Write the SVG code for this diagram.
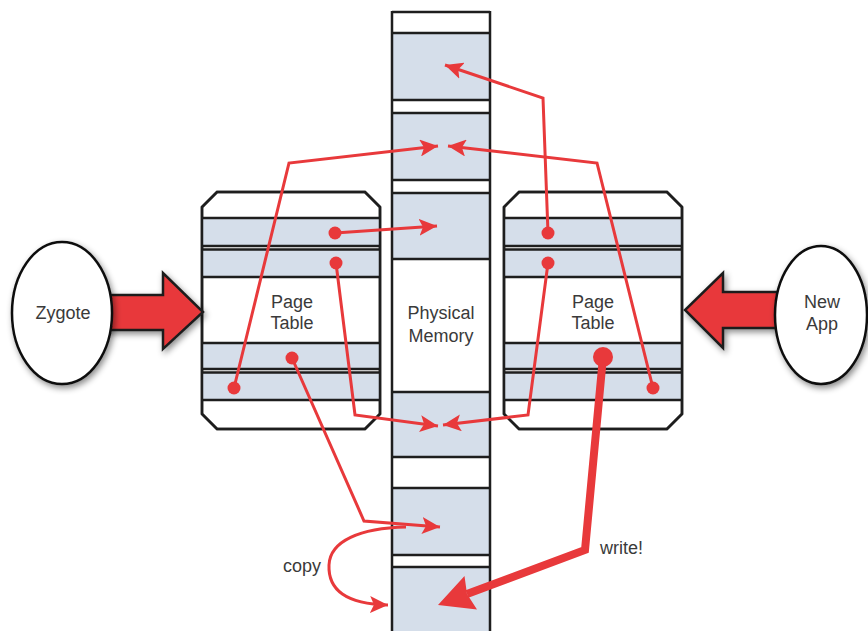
<svg xmlns="http://www.w3.org/2000/svg" width="868" height="631" viewBox="0 0 868 631">
  <defs>
    <style>
      .lbl { font-family: "Liberation Sans", Arial, Helvetica, sans-serif; font-size: 18px; fill: #3a3a3a; text-anchor: middle; }
      .page { fill: #d5deea; }
      .rule { stroke: #1e1e1e; stroke-width: 2.5; fill: none; }
      .frame { stroke: #1e1e1e; stroke-width: 2.5; fill: #ffffff; }
      .link { stroke: #e8393b; stroke-width: 3; fill: none; stroke-linejoin: miter; marker-end: url(#ah); }
      .dot { fill: #e8393b; }
      .block { fill: #e8393b; stroke: #1e1e1e; stroke-width: 2.5; stroke-linejoin: miter; filter: url(#shadow); }
      .proc { fill: #ffffff; stroke: #111111; stroke-width: 2.5; filter: url(#shadow); }
    </style>
    <filter id="shadow" x="-30%" y="-30%" width="170%" height="170%">
      <feDropShadow dx="2" dy="3" stdDeviation="3" flood-color="#000000" flood-opacity="0.45"/>
    </filter>
    <marker id="ah" viewBox="0 0 18 17" refX="18" refY="8.5" markerWidth="18" markerHeight="17" markerUnits="userSpaceOnUse" orient="auto">
      <path d="M0,0 L18,8.5 L0,17 L4,8.5 Z" fill="#e8393b"/>
    </marker>
  </defs>

  <rect width="868" height="631" fill="#ffffff"/>

  <!-- physical memory column -->
  <g id="physical-memory">
    <rect x="392" y="12" width="98" height="630" fill="#ffffff"/>
    <rect class="page" x="392" y="33" width="98" height="67"/>
    <rect class="page" x="392" y="113" width="98" height="67"/>
    <rect class="page" x="392" y="193" width="98" height="66"/>
    <rect class="page" x="392" y="392" width="98" height="65"/>
    <rect class="page" x="392" y="488" width="98" height="67"/>
    <rect class="page" x="392" y="567" width="98" height="70"/>
    <path class="rule" d="M392,12 H490 M392,33 H490 M392,100 H490 M392,113 H490 M392,180 H490 M392,193 H490 M392,259 H490 M392,392 H490 M392,457 H490 M392,488 H490 M392,555 H490 M392,567 H490"/>
    <path class="rule" d="M392,11 V632 M490,11 V632"/>
    <text class="lbl" x="441" y="319">Physical</text>
    <text class="lbl" x="441" y="342">Memory</text>
  </g>

  <!-- page table of the zygote -->
  <g id="zygote-page-table">
    <path class="frame" d="M217,192 H365 L380,207 V414 L365,429 H217 L202,414 V207 Z"/>
    <rect class="page" x="203" y="218" width="176" height="28"/>
    <rect class="page" x="203" y="249" width="176" height="28"/>
    <rect class="page" x="203" y="343" width="176" height="26"/>
    <rect class="page" x="203" y="372" width="176" height="28"/>
    <path class="rule" d="M202,218 H380 M202,246 H380 M202,249.5 H380 M202,277 H380 M202,343 H380 M202,369 H380 M202,372.5 H380 M202,400 H380"/>
    <path class="rule" d="M217,192 H365 L380,207 V414 L365,429 H217 L202,414 V207 Z"/>
    <text class="lbl" x="292" y="308">Page</text>
    <text class="lbl" x="292" y="329">Table</text>
  </g>

  <!-- page table of the new app -->
  <g id="app-page-table">
    <path class="frame" d="M519,192 H667 L682,207 V414 L667,429 H519 L504,414 V207 Z"/>
    <rect class="page" x="505" y="218" width="176" height="28"/>
    <rect class="page" x="505" y="249" width="176" height="28"/>
    <rect class="page" x="505" y="343" width="176" height="26"/>
    <rect class="page" x="505" y="372" width="176" height="28"/>
    <path class="rule" d="M504,218 H682 M504,246 H682 M504,249.5 H682 M504,277 H682 M504,343 H682 M504,369 H682 M504,372.5 H682 M504,400 H682"/>
    <path class="rule" d="M519,192 H667 L682,207 V414 L667,429 H519 L504,414 V207 Z"/>
    <text class="lbl" x="593" y="308">Page</text>
    <text class="lbl" x="593" y="329">Table</text>
  </g>

  <!-- zygote process -->
  <g id="zygote">
    <polygon class="block" points="100,295 163,295 163,273 203,312 163,349 163,330 100,330"/>
    <ellipse class="proc" cx="62" cy="313" rx="50" ry="71"/>
    <text class="lbl" x="63" y="319">Zygote</text>
  </g>

  <!-- new app process -->
  <g id="new-app">
    <polygon class="block" points="790,292 723,292 723,273 685,310 723,348 723,328 790,328"/>
    <ellipse class="proc" cx="821" cy="315" rx="46" ry="69"/>
    <text class="lbl" x="822" y="308">New</text>
    <text class="lbl" x="822" y="330">App</text>
  </g>

  <!-- page mappings -->
  <g id="connectors">
    <path class="link" d="M335,233 L437,226"/>
    <path class="link" d="M336,263 L355,415 L438,426"/>
    <path class="link" d="M292,358 L364,521 L440,527"/>
    <path class="link" d="M234,388 L289,163 L438,146"/>
    <path class="link" d="M548,233 L543,98 L445,65"/>
    <path class="link" d="M548,263 L528,415 L443,425"/>
    <path class="link" d="M653,388 L597,163 L448,146"/>
    <path class="link" d="M406,527 C360,528 330,541 329,565 C328,590 346,604 388,605"/>

    <!-- copy-on-write fault -->
    <path d="M603,357 L585,550 L467,594" fill="none" stroke="#e8393b" stroke-width="8" stroke-linejoin="miter"/>
    <polygon points="438,605 464.5,576 467,594 477,609.5" fill="#e8393b"/>

    <circle class="dot" cx="335" cy="233" r="6.5"/>
    <circle class="dot" cx="336" cy="263" r="6.5"/>
    <circle class="dot" cx="292" cy="358" r="6.5"/>
    <circle class="dot" cx="234" cy="388" r="6.5"/>
    <circle class="dot" cx="548" cy="233" r="6.5"/>
    <circle class="dot" cx="548" cy="263" r="6.5"/>
    <circle class="dot" cx="653" cy="388" r="6.5"/>
    <circle class="dot" cx="603" cy="357" r="10"/>

    <text class="lbl" x="302" y="572">copy</text>
    <text class="lbl" x="600" y="554" style="text-anchor:start">write!</text>
  </g>
</svg>
